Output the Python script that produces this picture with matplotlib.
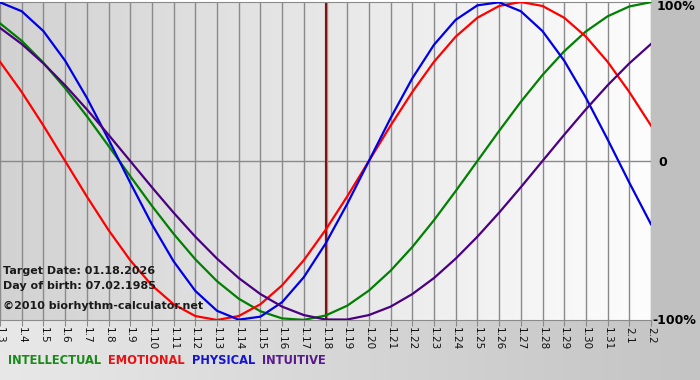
import numpy as np
import matplotlib
matplotlib.use("Agg")
import matplotlib.pyplot as plt
from matplotlib.colors import LinearSegmentedColormap

# days shown on the x axis (month.day)
days = ["1.3", "1.4", "1.5", "1.6", "1.7", "1.8", "1.9", "1.10", "1.11", "1.12",
        "1.13", "1.14", "1.15", "1.16", "1.17", "1.18", "1.19", "1.20", "1.21",
        "1.22", "1.23", "1.24", "1.25", "1.26", "1.27", "1.28", "1.29", "1.30",
        "1.31", "2.1", "2.2"]
target_day = "1.18"

# cycle values, -1 .. 1, one per day
physical = [0.998, 0.942, 0.817, 0.631, 0.398, 0.136, -0.136, -0.398, -0.631, -0.817,
            -0.942, -0.998, -0.979, -0.888, -0.731, -0.520, -0.270, 0.0, 0.270,
            0.520, 0.731, 0.888, 0.979, 0.998, 0.942, 0.817, 0.631, 0.398,
            0.136, -0.136, -0.398]
emotional = [0.624, 0.434, 0.223, 0.0, -0.223, -0.434, -0.624, -0.782, -0.901, -0.975,
             -1.0, -0.975, -0.901, -0.782, -0.624, -0.434, -0.223, 0.0, 0.223,
             0.434, 0.624, 0.782, 0.901, 0.975, 1.0, 0.975, 0.901, 0.782,
             0.624, 0.434, 0.223]
intellectual = [0.866, 0.756, 0.618, 0.458, 0.282, 0.095, -0.095, -0.282, -0.458, -0.618,
                -0.756, -0.866, -0.945, -0.990, -0.999, -0.972, -0.910, -0.815, -0.690,
                -0.541, -0.372, -0.189, 0.0, 0.189, 0.372, 0.541, 0.690, 0.815,
                0.910, 0.972, 0.999]
intuitive = [0.837, 0.736, 0.614, 0.476, 0.325, 0.165, 0.0, -0.165, -0.325, -0.476,
             -0.614, -0.736, -0.837, -0.916, -0.969, -0.997, -0.997, -0.969, -0.916,
             -0.837, -0.736, -0.614, -0.476, -0.325, -0.165, 0.0, 0.165, 0.325,
             0.476, 0.614, 0.736]

series = [("INTELLECTUAL", intellectual, "#008000", "#1a8a1a"),
          ("EMOTIONAL", emotional, "#ff0000", "#e51414"),
          ("PHYSICAL", physical, "#0000e6", "#1414d2"),
          ("INTUITIVE", intuitive, "#4b0082", "#5a1a8c")]

plt.rcParams['font.family'] = ['DejaVu Sans']

W, H = 700, 380
fig = plt.figure(figsize=(W / 100, H / 100), dpi=100)

# page background: grey band on the right, gradient strip below
bg = fig.add_axes([0, 0, 1, 1])
bg.set_xlim(0, W)
bg.set_ylim(H, 0)
bg.axis("off")
grad = np.linspace(0, 1, 256).reshape(1, -1)
bg.imshow(grad, extent=[0, W, H, 318], aspect="auto",
          cmap=LinearSegmentedColormap.from_list("b", ["#e8e8e8", "#c4c4c4"]))
bg.add_patch(plt.Rectangle((651, 0), W - 651, 320, color="#c0c0c0", lw=0))

# plot area
x = np.arange(len(days))
ax = fig.add_axes([0, 1 - 320 / H, 651 / W, 318 / H])
ax.set_xlim(0, len(days) - 1)
ax.set_ylim(-1, 1)
ax.imshow(grad, extent=[0, len(days) - 1, -1, 1], aspect="auto", zorder=0,
          cmap=LinearSegmentedColormap.from_list("p", ["#d2d2d2", "#fdfdfd"]))

for xi in x:
    ax.axvline(xi, color="#8a8a8a", lw=1, zorder=1)
ax.axhline(0, color="#8a8a8a", lw=1, zorder=1)

ti = days.index(target_day)
ax.axvline(ti, color="#c08080", lw=2.4, zorder=2)
ax.axvline(ti, color="#6a0000", lw=1.2, zorder=2)

for name, vals, lc, tc in series:
    ax.plot(x, vals, color=lc, lw=1.6, zorder=3, solid_joinstyle="round")

for s in ["left", "right"]:
    ax.spines[s].set_visible(False)
ax.spines["top"].set_color("#8a8a8a")
ax.spines["bottom"].set_color("#8a8a8a")
ax.set_yticks([])
ax.set_xticks(x)
ax.set_xticklabels(days, rotation=270, fontsize=7.5, color="#111111")
ax.tick_params(axis="x", length=4, color="#8a8a8a", pad=1)

# right side percent labels
fig.text(657 / W, 1 - 7 / H, "100%", fontsize=9, weight="bold", va="center", ha="left")
fig.text(658 / W, 1 - 162 / H, "0", fontsize=9, weight="bold", va="center", ha="left")
fig.text(652 / W, 1 - 321 / H, "-100%", fontsize=9, weight="bold", va="center", ha="left")

# info text
fig.text(3 / W, 1 - 271 / H, "Target Date: 01.18.2026", fontsize=8, weight="bold",
         color="#1a1a1a", va="center")
fig.text(3 / W, 1 - 286 / H, "Day of birth: 07.02.1985", fontsize=8, weight="bold",
         color="#1a1a1a", va="center")
fig.text(3 / W, 1 - 306 / H, "\u00a92010 biorhythm-calculator.net", fontsize=8, weight="bold",
         color="#1a1a1a", va="center")

# legend words
xpos = 8
for name, vals, lc, tc in series:
    t = fig.text(xpos / W, 1 - 361 / H, name, fontsize=8.3, weight="bold", color=tc, va="center")
    fig.canvas.draw()
    bb = t.get_window_extent()
    xpos = bb.x1 + 7

fig.savefig("out.png", dpi=100)
